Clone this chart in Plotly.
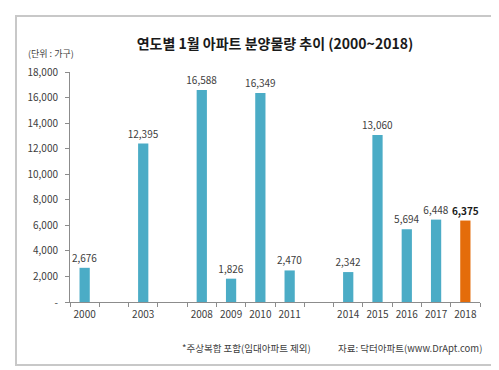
import plotly.graph_objects as go

# Data (None = empty slot on the axis)
years = ["2000", None, "2003", None, "2008", "2009", "2010", "2011", None,
         "2014", "2015", "2016", "2017", "2018"]
values = [2676, None, 12395, None, 16588, 1826, 16349, 2470, None,
          2342, 13060, 5694, 6448, 6375]
highlight_year = "2018"
y_tickvals = [0, 2000, 4000, 6000, 8000, 10000, 12000, 14000, 16000, 18000]
y_ticktext = ["-"] + [f"{v:,}" for v in y_tickvals[1:]]

title = "연도별 1월 아파트 분양물량 추이 (2000~2018)"
unit_text = "(단위 : 가구)"
note_text = "*주상복합 포함(임대아파트 제외)"
source_text = "자료: 닥터아파트(www.DrApt.com)"

BLUE = "#4BACC6"
ORANGE = "#E46C0A"
FONT = "Noto Sans CJK KR"

cats = [y if y is not None else " " * (i + 1) for i, y in enumerate(years)]
colors = [ORANGE if y == highlight_year else BLUE for y in years]
texts = []
for y, v in zip(years, values):
    if v is None:
        texts.append("")
    elif y == highlight_year:
        texts.append(f"<b>{v:,}</b>")
    else:
        texts.append(f"{v:,}")
text_colors = ["#1a1a1a" if y == highlight_year else "#404040" for y in years]

fig = go.Figure(go.Bar(
    x=cats, y=values, marker_color=colors, marker_line_width=0,
    text=texts, textposition="outside", cliponaxis=False,
    constraintext="none",
    textfont=dict(size=10, color=text_colors, family=FONT),
    hoverinfo="skip",
))

fig.update_layout(
    width=499, height=370,
    margin=dict(l=62, r=27, t=64, b=76),
    paper_bgcolor="white", plot_bgcolor="white",
    bargap=0.65,
    showlegend=False,
    font=dict(family=FONT, color="#404040", size=10),
    title=dict(text=f"<b>{title}</b>", x=0.535, xanchor="center",
               y=1 - 36 / 370, yanchor="middle", yref="container",
               font=dict(size=14, color="#1a1a1a", family=FONT)),
)
fig.update_xaxes(
    type="category", categoryorder="array", categoryarray=cats,
    showline=True, linecolor="#8c8c8c", linewidth=1,
    ticks="outside", tickson="boundaries", ticklen=4, tickcolor="#8c8c8c",
    tickangle=0, ticklabelstandoff=3,
    tickfont=dict(size=10, color="#404040"), showgrid=False,
)
fig.update_yaxes(
    range=[0, 18000], tickvals=y_tickvals, ticktext=y_ticktext,
    showline=True, linecolor="#8c8c8c", linewidth=1,
    ticks="outside", ticklen=4, tickcolor="#8c8c8c", ticklabelstandoff=5,
    tickfont=dict(size=10, color="#404040"), showgrid=False, zeroline=False,
)

# Outer chart border
fig.add_shape(type="rect", xref="paper", yref="paper",
              x0=(8 - 62) / 410, x1=(490 - 62) / 410,
              y0=(294 - 357) / 230, y1=(294 - 8) / 230,
              line=dict(color="#c8c8c8", width=2), layer="below")

fig.add_annotation(text=unit_text, xref="paper", yref="paper",
                   x=(18 - 62) / 410, y=(294 - 45) / 230,
                   xanchor="left", yanchor="middle", showarrow=False,
                   font=dict(size=9, color="#404040"))
fig.add_annotation(text=note_text, xref="paper", yref="paper",
                   x=(172 - 62) / 410, y=(294 - 340) / 230,
                   xanchor="left", yanchor="middle", showarrow=False,
                   font=dict(size=9.5, color="#404040"))
fig.add_annotation(text=source_text, xref="paper", yref="paper",
                   x=(476 - 62) / 410, y=(294 - 340) / 230,
                   xanchor="right", yanchor="middle", showarrow=False,
                   font=dict(size=9.5, color="#404040"))

fig.write_html("out.html")
